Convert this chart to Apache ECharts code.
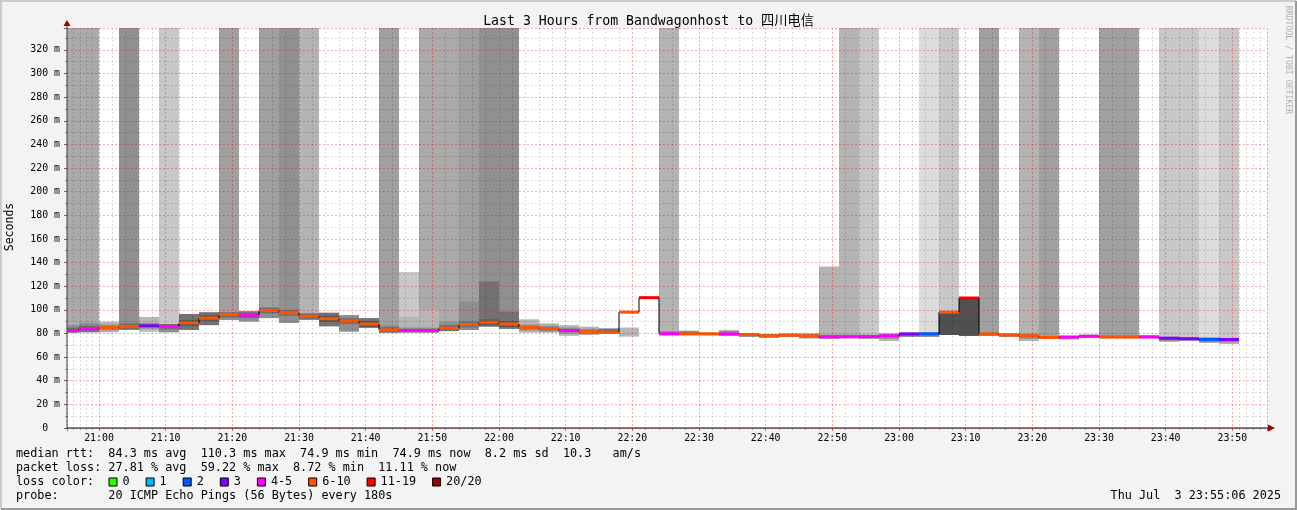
<!DOCTYPE html>
<html><head><meta charset="utf-8">
<script src="https://cdn.jsdelivr.net/npm/echarts@6/dist/echarts.min.js"></script>
<style>html,body{margin:0;padding:0;background:#f3f3f3;overflow:hidden}#c{width:1297px;height:510px}</style>
</head><body><div id="c"></div><script>
// ---- data (one entry per 3-minute step, first step ends 20:57) ----
const firstStepEnd = Date.UTC(2025, 6, 3, 20, 57, 0);
const stepMs = 180000;
const median = [82.5,84,85,86,86.5,86,89,93,96,95.5,99.5,97.5,94.5,92.5,90.5,88,83,82.5,82.5,84.5,87.6,89.5,88,85,84,82.5,81.5,81,98,110.3,79.8,79.7,79.7,79.6,79,78,78.5,78,77.2,77.2,77.4,78,79.5,79.6,98,110,79.5,78.7,78,76.6,77,77.6,77,77,77,76,75.5,75,74.9];
const lossClass = [4,4,5,5,3,4,5,5,5,4,5,5,5,5,5,5,5,4,4,5,5,5,5,5,5,4,5,5,5,6,4,5,5,4,5,5,5,5,4,4,4,4,3,2,5,6,5,5,5,5,4,4,5,5,4,3,3,2,3];
const smokeLow = [80.7,81,81,83,81.5,81,83,87,91.5,90,93,89,91.5,86,81.5,84.7,80.7,80.7,80.7,82,83,85.8,84,80.7,80.7,78,79,80,77.3,110.3,78.5,78.5,78.5,78,77.3,76.5,77,75.8,75.6,76,75.5,73.6,77,77,78.7,77.9,78,77,73.7,75.5,75,76.5,76,76,76,73,74,72,71];
const smokeHigh = [87,89,90,89,94,88,96.5,98,98,99,102,100,97,97.6,95.6,93,87,94,100,90,107,124,98.5,92,88.6,87,85.8,84.4,85,110.3,82,82.4,80.5,83,80,79.5,80,80,79,79,79,80,81,81,98,110,81,80,80,78,78,79,78.5,78.5,78.5,77,77,76.5,76];
// upper (lost-ping) smoke: top value (340 = off the top of the chart, 0 = none) and its shade level
const lossSmokeTop = [340,340,0,340,0,340,0,0,340,0,340,340,340,0,0,0,340,132,340,340,340,340,340,0,0,0,0,0,0,0,340,0,0,0,0,0,0,0,136.6,340,340,0,0,340,340,0,340,0,340,340,0,0,340,340,0,340,340,340,340];
const lossSmokeShade = [4,4,0,6,0,2,0,0,5,0,5,6,3,0,0,0,5,2,4,4,5,6,6,0,0,0,0,0,0,0,3,0,0,0,0,0,0,0,3,3,2,0,0,1,2,0,5,0,3,5,0,0,5,5,0,2,2,1,2];
const smokeDensity = [2,2,1,2,1,2,3,3,2,2,2,2,2,3,2,3,2,1,1,2,2,3,3,1,1,1,1,2,1,0,1,1,1,1,2,2,1,1,1,1,1,1,1,1,4,4,1,1,1,1,1,1,1,1,1,1,1,1,1];
const lossLabels = ['0','1','2','3','4-5','6-10','11-19','20/20'];
const lossColors = ['#26ff00','#00b8ff','#0059ff','#7e00ff','#ff00ff','#ff5500','#ff0000','#a10000'];
const statLines = [
  'median rtt:  84.3 ms avg  110.3 ms max  74.9 ms min  74.9 ms now  8.2 ms sd  10.3   am/s',
  'packet loss: 27.81 % avg  59.22 % max  8.72 % min  11.11 % now',
  'loss color:',
  'probe:       20 ICMP Echo Pings (56 Bytes) every 180s'
];
const titleText = 'Last 3 Hours from Bandwagonhost to 四川电信';
const dateText = 'Thu Jul  3 23:55:06 2025';

// ---- styling ----
const SHADES = [null,'#dcdcdc','#c8c8c8','#b4b4b4','#aaaaaa','#a0a0a0','#909090'];
const SMOKE = [null,'#b6b6b6','#8e8e8e','#727272','#505050'];
const MONO = '"DejaVu Sans Mono", "Noto Sans CJK SC", monospace';
const xMin = Date.UTC(2025, 6, 3, 20, 55, 12);
const xMax = Date.UTC(2025, 6, 3, 23, 55, 12);

const rows = median.map((m, k) => {
  const t1 = firstStepEnd + k * stepMs;
  return [t1 - stepMs, t1, smokeLow[k], smokeHigh[k], m, lossClass[k], lossSmokeTop[k], lossSmokeShade[k], smokeDensity[k], k > 0 ? median[k-1] : m];
});

function renderItem(params, api) {
  const t0 = api.value(0), t1 = api.value(1);
  const lo = api.value(2), hi = api.value(3), med = api.value(4), cls = api.value(5);
  const upTop = api.value(6), upLev = api.value(7), dens = api.value(8), prev = api.value(9);
  const kids = [];
  const rect = (a, b, fill) => {
    const p0 = api.coord([t0, a]), p1 = api.coord([t1, b]);
    return {type:'rect', shape:{x:p0[0], y:p1[1], width:p1[0]-p0[0], height:p0[1]-p1[1]}, style:{fill}};
  };
  if (upLev > 0) kids.push(rect(lo, upTop, SHADES[upLev]));
  if (dens > 0 && hi > lo) {
    kids.push(rect(lo, hi, SMOKE[dens]));
    if (dens < 4) {
      const cl = Math.max(lo, med - 2.5), ch = Math.min(hi, med + 2.5);
      if (ch > cl) kids.push(rect(cl, ch, 'rgba(0,0,0,0.22)'));
    }
  }
  const a = api.coord([t0, med]), b = api.coord([t1, med]), p = api.coord([t0, prev]);
  kids.push({type:'line', shape:{x1:a[0], y1:p[1], x2:a[0], y2:a[1]}, style:{stroke:'#000', lineWidth:1}});
  kids.push({type:'line', shape:{x1:a[0], y1:a[1], x2:b[0], y2:b[1]}, style:{stroke:lossColors[cls], lineWidth:3}});
  return {type:'group', children:kids};
}

const pad = n => (n < 10 ? '0' : '') + n;
const graphic = [];
graphic.push({type:'polyline', shape:{points:[[1,509],[1,1],[1296,1]]}, style:{stroke:'#cccccc', lineWidth:2, fill:null}, silent:true});
graphic.push({type:'polyline', shape:{points:[[1,509],[1296,509],[1296,1]]}, style:{stroke:'#999999', lineWidth:2, fill:null}, silent:true});
graphic.push({type:'text', x:648.5, y:22, style:{text:titleText, font:'13.2px ' + MONO, fill:'#000', align:'center', verticalAlign:'middle'}});
graphic.push({type:'text', x:10, y:227, rotation:Math.PI/2, style:{text:'Seconds', font:'11.5px ' + MONO, fill:'#000', align:'center', verticalAlign:'middle'}});
graphic.push({type:'text', x:1288, y:60, rotation:-Math.PI/2, style:{text:'RRDTOOL / TOBI OETIKER', font:'8.2px ' + MONO, fill:'#b0b0b0', align:'center', verticalAlign:'middle'}});
graphic.push({type:'line', shape:{x1:67, y1:428, x2:67, y2:25}, style:{stroke:'#444', lineWidth:1}, z:20});
graphic.push({type:'line', shape:{x1:67, y1:428, x2:1270, y2:428}, style:{stroke:'#000', lineWidth:1}, z:20});
graphic.push({type:'polygon', shape:{points:[[63.5,26],[70.5,26],[67,20]]}, style:{fill:'#990000'}, z:21});
graphic.push({type:'polygon', shape:{points:[[1268,424.5],[1268,431.5],[1275,428]]}, style:{fill:'#990000'}, z:21});
const rowY = [454, 468, 482, 496];
statLines.forEach((s, i) => graphic.push({type:'text', x:16, y:rowY[i], style:{text:s, font:'11.8px ' + MONO, fill:'#000', align:'left', verticalAlign:'middle'}}));
const charW = 7.1;
let lx = 109;
lossLabels.forEach((lab, i) => {
  graphic.push({type:'rect', shape:{x:lx, y:rowY[2]-4, width:8, height:8}, style:{fill:lossColors[i], stroke:'#000', lineWidth:1}});
  graphic.push({type:'text', x:lx+13.5, y:rowY[2], style:{text:lab, font:'11.8px ' + MONO, fill:'#000', align:'left', verticalAlign:'middle'}});
  lx += 30 + charW * lab.length;
});
graphic.push({type:'text', x:1281, y:rowY[3], style:{text:dateText, font:'11.8px ' + MONO, fill:'#000', align:'right', verticalAlign:'middle'}});

const chart = echarts.init(document.getElementById('c'));
chart.setOption({
  animation:false,
  useUTC:true,
  backgroundColor:'#f3f3f3',
  grid:{left:67, top:28, right:30, bottom:82, show:true, backgroundColor:'#ffffff', borderWidth:0},
  xAxis:{type:'time', min:xMin, max:xMax, splitNumber:17, minInterval:620000, maxInterval:620000, z:5,
    axisLine:{show:false},
    axisTick:{show:true, length:3, lineStyle:{color:'#e06060'}},
    minorTick:{show:true, splitNumber:5, length:2, lineStyle:{color:'#aaaaaa'}},
    axisLabel:{formatter:v => { const d = new Date(v); return pad(d.getUTCHours()) + ':' + pad(d.getUTCMinutes()); },
      fontFamily:MONO, fontSize:9.9, color:'#000', margin:5, showMinLabel:false, showMaxLabel:false, hideOverlap:false},
    splitLine:{show:true, lineStyle:{color:'rgba(255,0,0,0.35)', type:[2,2], width:1}},
    minorSplitLine:{show:true, lineStyle:{color:'rgba(0,0,0,0.14)', type:[2,2], width:1}}
  },
  yAxis:{type:'value', min:0, max:338.5, interval:20, z:5,
    axisLine:{show:false},
    axisTick:{show:true, length:3, lineStyle:{color:'#666'}},
    minorTick:{show:true, splitNumber:2, length:2, lineStyle:{color:'#999'}},
    axisLabel:{formatter:v => v === 0 ? '0\u00a0\u00a0' : v + ' m', fontFamily:MONO, fontSize:9.9, color:'#000', margin:7, showMaxLabel:false},
    splitLine:{show:true, lineStyle:{color:'rgba(255,0,0,0.35)', type:[2,2], width:1}},
    minorSplitLine:{show:true, lineStyle:{color:'rgba(0,0,0,0.14)', type:[2,2], width:1}}
  },
  series:[{type:'custom', renderItem, data:rows, clip:true, z:1, encode:{x:[0,1], y:[2,3,4]}}],
  graphic
});
</script></body></html>
